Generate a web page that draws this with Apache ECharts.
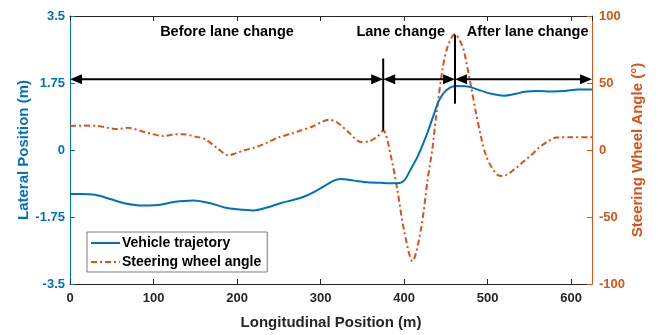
<!DOCTYPE html>
<html>
<head>
<meta charset="utf-8">
<script src="https://cdn.jsdelivr.net/npm/echarts@6/dist/echarts.min.js"></script>
<style>
  html, body { margin: 0; padding: 0; background: #fff; }
  #chart { width: 660px; height: 335px; }
</style>
</head>
<body>
<div id="chart"></div>
<script>
// Vehicle lateral position (m) against longitudinal position (m)
const trajX = [0, 12, 30, 48, 65, 80, 95, 108, 124, 148, 168, 185, 200, 220, 236, 252, 268, 280, 292, 304, 314, 324, 340, 356, 375, 392, 400, 408, 416, 422, 428, 436, 442, 450, 462, 476, 492, 506, 520, 532, 544, 560, 576, 592, 608, 625];
const trajY = [-1.15, -1.15, -1.17, -1.28, -1.39, -1.44, -1.45, -1.43, -1.36, -1.32, -1.39, -1.50, -1.55, -1.58, -1.50, -1.39, -1.30, -1.22, -1.10, -0.95, -0.82, -0.76, -0.80, -0.84, -0.86, -0.87, -0.80, -0.50, -0.18, 0.12, 0.45, 0.95, 1.30, 1.55, 1.67, 1.66, 1.55, 1.46, 1.42, 1.46, 1.52, 1.54, 1.53, 1.54, 1.58, 1.58];

// Steering wheel angle (deg) against longitudinal position (m)
const steerX = [0, 16, 32, 46, 56, 70, 84, 98, 112, 124, 136, 150, 162, 176, 190, 198, 210, 222, 236, 250, 264, 276, 290, 300, 310, 320, 334, 348, 358, 368, 375, 384, 392, 400, 410, 420, 428, 434, 438, 446, 452, 461, 468, 472, 480, 486, 492, 498, 504, 512, 518, 532, 544, 552, 562, 572, 582, 600, 625];
const steerY = [18, 18.2, 18, 16.5, 15.7, 16.6, 14.3, 12, 10.5, 11.6, 11.8, 10, 8, 1.5, -4, -2.5, 0, 2, 5.5, 9.5, 12, 14.5, 17.5, 20.5, 22.6, 20.5, 13, 6, 6.5, 10, 14.5, -4, -30, -60, -83, -60, -23, 1.5, 23.5, 60, 77, 86.5, 80, 73, 48, 28, 10, -4, -12, -18.6, -19.4, -14.5, -8, -4, 2, 6.4, 9.3, 9.5, 9.5];

// Axis ticks
const xTicks = [0, 100, 200, 300, 400, 500, 600];
const latTicks = [-3.5, -1.75, 0, 1.75, 3.5];
const angleTicks = [-100, -50, 0, 50, 100];

// Manoeuvre phases: boundaries along the road, arrow level, dividers and captions
const phaseBounds = [0, 375, 461, 625];
const arrowLevel = 1.85;
const dividerX = [375, 461];
const dividerLow = [0.51, 1.21];
const dividerHigh = [2.39, 3.01];
const phaseNames = ['Before lane change', 'Lane change', 'After lane change'];
const phaseLabelX = [188, 396, 548];
const phaseLabelY = 3.09;

const BLUE = '#0072BD';
const ORANGE = '#D95319';
const DARK = '#262626';
const FONT = '"Liberation Sans", Arial, Helvetica, sans-serif';

const arrowSegments = [];
for (let i = 0; i < phaseBounds.length - 1; i++) {
  arrowSegments.push([phaseBounds[i], phaseBounds[i + 1], arrowLevel]);
}
const dividers = dividerX.map((x, i) => [x, dividerLow[i], dividerHigh[i]]);
const captions = phaseNames.map((n, i) => [phaseLabelX[i], phaseLabelY, i]);

const chart = echarts.init(document.getElementById('chart'), null, { renderer: 'canvas' });

const xMin = xTicks[0], xMax = phaseBounds[phaseBounds.length - 1];

chart.setOption({
  animation: false,
  backgroundColor: '#fff',
  textStyle: { fontFamily: FONT },
  grid: { left: 70, right: 68, top: 16, bottom: 47, containLabel: false },
  legend: {
    data: ['Vehicle trajetory', 'Steering wheel angle'],
    orient: 'vertical',
    left: 87,
    top: 232,
    itemWidth: 29,
    itemHeight: 14,
    itemGap: 5,
    padding: [4, 6, 3, 3],
    borderColor: '#7a7a7a',
    borderWidth: 1,
    backgroundColor: '#fff',
    itemStyle: { opacity: 0 },
    textStyle: { fontFamily: FONT, fontSize: 14, fontWeight: 'bold', color: '#000', padding: [0, 0, 0, -3] }
  },
  xAxis: [{
    type: 'value',
    min: xMin, max: xMax, interval: 100,
    position: 'bottom',
    name: 'Longitudinal Position (m)',
    nameLocation: 'middle',
    nameGap: 31,
    nameMoveOverlap: false,
    nameTextStyle: { fontFamily: FONT, fontSize: 15, fontWeight: 'bold', color: DARK },
    axisLine: { show: true, onZero: false, lineStyle: { color: DARK, width: 1 } },
    axisTick: { show: true, inside: true, length: 5, lineStyle: { color: DARK } },
    axisLabel: { showMaxLabel: false, margin: 8, fontFamily: FONT, fontSize: 13, fontWeight: 'bold', color: DARK },
    splitLine: { show: false }
  }, {
    type: 'value',
    min: xMin, max: xMax, interval: 100,
    position: 'top',
    axisLine: { show: true, onZero: false, lineStyle: { color: DARK, width: 1 } },
    axisTick: { show: true, inside: true, length: 5, lineStyle: { color: DARK } },
    axisLabel: { show: false },
    splitLine: { show: false }
  }],
  yAxis: [{
    type: 'value',
    min: latTicks[0], max: latTicks[latTicks.length - 1], interval: 1.75,
    position: 'left',
    name: 'Lateral Position (m)',
    nameLocation: 'middle',
    nameGap: 39,
    nameMoveOverlap: false,
    nameTextStyle: { fontFamily: FONT, fontSize: 15, fontWeight: 'bold', color: BLUE },
    axisLine: { show: true, onZero: false, lineStyle: { color: BLUE, width: 1 } },
    axisTick: { show: true, inside: true, length: 5, lineStyle: { color: BLUE } },
    axisLabel: { margin: 5, fontFamily: FONT, fontSize: 13, fontWeight: 'bold', color: BLUE },
    splitLine: { show: false }
  }, {
    type: 'value',
    min: angleTicks[0], max: angleTicks[angleTicks.length - 1], interval: 50,
    position: 'right',
    name: 'Steering Wheel Angle (°)',
    nameLocation: 'middle',
    nameGap: 38,
    nameRotate: 90,
    nameMoveOverlap: false,
    nameTextStyle: { fontFamily: FONT, fontSize: 15, fontWeight: 'bold', color: ORANGE },
    axisLine: { show: true, onZero: false, lineStyle: { color: ORANGE, width: 1 } },
    axisTick: { show: true, inside: true, length: 5, lineStyle: { color: ORANGE } },
    axisLabel: { margin: 7, fontFamily: FONT, fontSize: 13, fontWeight: 'bold', color: ORANGE },
    splitLine: { show: false }
  }],
  series: [{
    name: 'Vehicle trajetory',
    type: 'line',
    xAxisIndex: 0, yAxisIndex: 0,
    data: trajX.map((x, i) => [x, trajY[i]]),
    smooth: 0.3,
    symbol: 'none',
    lineStyle: { color: BLUE, width: 2 },
    itemStyle: { color: BLUE },
    z: 3
  }, {
    name: 'Steering wheel angle',
    type: 'line',
    xAxisIndex: 0, yAxisIndex: 1,
    data: steerX.map((x, i) => [x, steerY[i]]),
    smooth: 0.3,
    symbol: 'none',
    lineStyle: { color: ORANGE, width: 2, type: [6, 3, 2, 3] },
    itemStyle: { color: ORANGE },
    z: 2
  }, {
    // double-headed arrows spanning each phase
    type: 'custom',
    xAxisIndex: 0, yAxisIndex: 0,
    clip: false,
    silent: true,
    z: 5,
    data: arrowSegments,
    renderItem: function (params, api) {
      const p0 = api.coord([api.value(0), api.value(2)]);
      const p1 = api.coord([api.value(1), api.value(2)]);
      const L = 12, W = 5;
      return {
        type: 'group',
        children: [{
          type: 'line',
          shape: { x1: p0[0] + L - 1, y1: p0[1], x2: p1[0] - L + 1, y2: p1[1] },
          style: { stroke: '#000', lineWidth: 2 }
        }, {
          type: 'polygon',
          shape: { points: [[p0[0], p0[1]], [p0[0] + L, p0[1] - W], [p0[0] + L, p0[1] + W]] },
          style: { fill: '#000' }
        }, {
          type: 'polygon',
          shape: { points: [[p1[0], p1[1]], [p1[0] - L, p1[1] - W], [p1[0] - L, p1[1] + W]] },
          style: { fill: '#000' }
        }]
      };
    }
  }, {
    // vertical dividers between phases
    type: 'custom',
    xAxisIndex: 0, yAxisIndex: 0,
    clip: false,
    silent: true,
    z: 5,
    data: dividers,
    renderItem: function (params, api) {
      const a = api.coord([api.value(0), api.value(1)]);
      const b = api.coord([api.value(0), api.value(2)]);
      return {
        type: 'line',
        shape: { x1: a[0], y1: a[1], x2: b[0], y2: b[1] },
        style: { stroke: '#000', lineWidth: 2 }
      };
    }
  }, {
    // phase captions
    type: 'custom',
    xAxisIndex: 0, yAxisIndex: 0,
    clip: false,
    silent: true,
    z: 6,
    data: captions,
    renderItem: function (params, api) {
      const p = api.coord([api.value(0), api.value(1)]);
      return {
        type: 'text',
        x: p[0], y: p[1],
        style: {
          text: phaseNames[api.value(2)],
          align: 'center',
          verticalAlign: 'middle',
          fontFamily: FONT,
          fontSize: 14.5,
          fontWeight: 'bold',
          fill: '#000'
        }
      };
    }
  }]
});
</script>
</body>
</html>
